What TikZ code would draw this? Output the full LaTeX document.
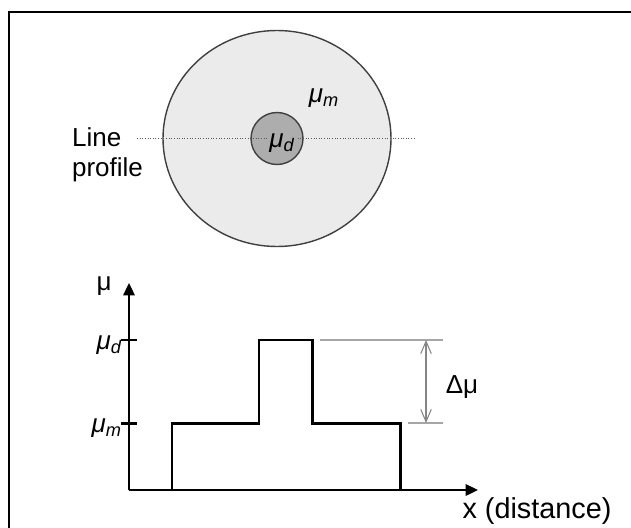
\documentclass[tikz,border=0pt]{standalone}
\usepackage{fontspec}
\setmainfont{Liberation Sans}
\usetikzlibrary{arrows.meta}
\definecolor{mFill}{HTML}{EBEBEB}
\definecolor{dFill}{HTML}{ADADAD}
\definecolor{oInk}{HTML}{404040}
\definecolor{rLine}{HTML}{A6A6A6}
\tikzset{
  lbl/.style={font=\fontsize{14.8}{17}\selectfont, inner sep=1pt},
  mulbl/.style={lbl, font=\fontsize{14.8}{17}\selectfont\itshape},
  profile/.style={line width=1.7pt, line join=miter},
  axis/.style={line width=1.1pt, -{Triangle[length=7pt,width=6.5pt]}},
  tickmark/.style={line width=1.7pt},
  refline/.style={draw=rLine, line width=0.6pt},
}
\newcommand{\musub}[1]{μ\textsubscript{#1}}

\begin{document}
\begin{tikzpicture}[x=0.02cm, y=-0.02cm]
  \useasboundingbox (0,0) rectangle (631,527);
  \draw[line width=0.9pt] (9,540) -- (9,12) -- (640,12);
  % sample cross-section
  \coordinate (ctr) at (277,138.5);
  \filldraw[fill=mFill, draw=oInk, line width=0.8pt] (ctr) ellipse [x radius=114, y radius=108];
  \filldraw[fill=dFill, draw=oInk, line width=0.8pt] (ctr) circle [radius=26];
  \coordinate (lpL) at (137,138);
  \coordinate (lpR) at (416,138);
  \draw[densely dotted, gray!70!black, line width=0.5pt] (lpL) -- (lpR);
  \node[mulbl, fill=dFill, inner sep=0.5pt] (mud) at (282,143) {\musub{d}};
  \node[mulbl] (mum) at (324,98) {\musub{m}};
  \node[lbl, align=left, anchor=west] (lprof) at (70,155) {Line\\profile};
  % profile plot
  \coordinate (O) at (129,490);
  \coordinate (ytop) at (129,283);
  \coordinate (xend) at (478,490);
  \draw[axis] (O) -- (ytop);
  \draw[axis] (O) -- (xend);
  \node[lbl] (ylab) at (104,286) {μ};
  \node[lbl, font=\fontsize{16.4}{19}\selectfont] (xlab) at (537,511) {x (distance)};
  \foreach \n/\y in {d/340, m/423} {
    \draw[tickmark] (121,\y) -- (137,\y);
    \node[mulbl, anchor=east] (t\n) at (124,\y+5) {\musub{\n}};
  }
  \draw[profile] (172,490) -- (172,423) -- (259,423) -- (259,340) -- (312,340)
    -- (312,423) -- (400,423) -- (400,490);
  \draw[refline] (320,340) -- (443,340);
  \draw[refline] (408,423) -- (443,423);
  \coordinate (da1) at (426,340);
  \coordinate (da2) at (426,423);
  \draw[rLine!80!black, line width=0.6pt, {Straight Barb[length=7pt,width=6pt]}-{Straight Barb[length=7pt,width=6pt]}] (da1) -- (da2);
  \node[lbl] (dmu) at (462,387) {Δμ};
\end{tikzpicture}
\end{document}
